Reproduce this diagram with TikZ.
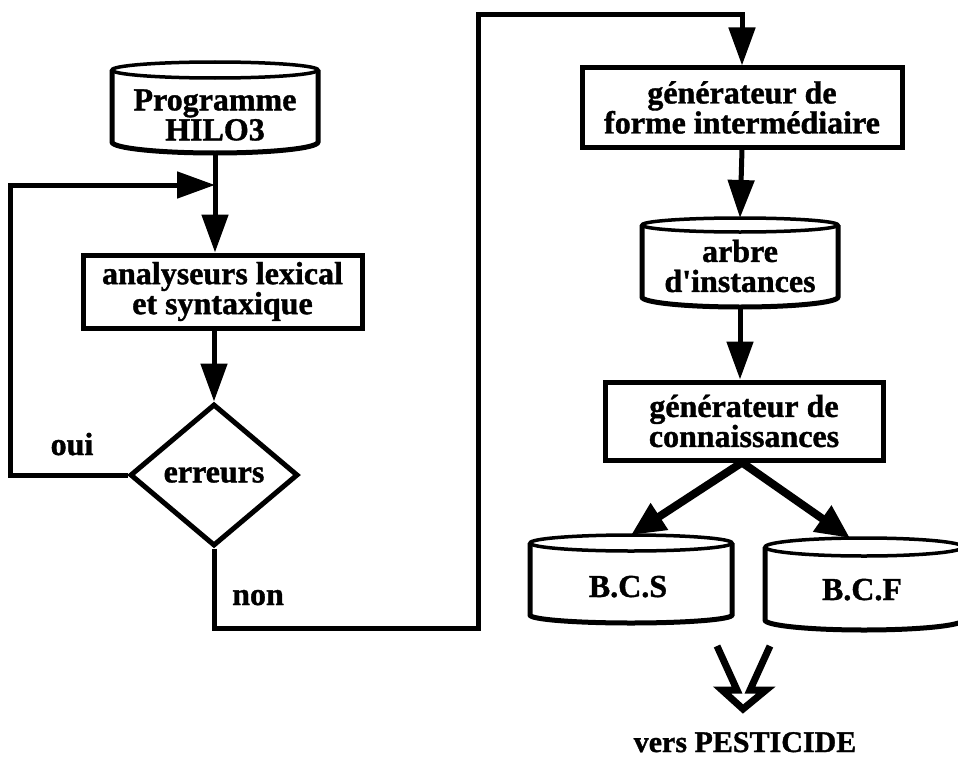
\documentclass[tikz,border=0pt]{standalone}
\usepackage{fontspec}
\setmainfont{Liberation Serif}[Ligatures=TeXOff, BoldFeatures={FakeBold=1.2}]
\usetikzlibrary{arrows.meta,shapes.geometric}
\newcommand\drawcyl[6]{%
  \draw[cyltop] (#1,#2) ellipse [x radius=#3, y radius=#4];
  \draw[cylside] ({#1-#3},#2) -- ({#1-#3},#5) arc[start angle=180, end angle=0, x radius=#3, y radius={#6-#5}] -- ({#1+#3},#2);
}
\begin{document}
\begin{tikzpicture}[x=1pt,y=-1pt,
  lbl/.style={font=\bfseries\fontsize{32}{30}\selectfont, align=center, inner sep=0pt},
  boxnode/.style={draw, line width=5pt, inner sep=0pt, lbl},
  area/.style={inner sep=0pt, outer sep=0pt},
  conn/.style={line width=5pt},
  arr/.style={conn, -{Triangle[length=38pt,width=26pt]}},
  bigarr/.style={line width=8pt, -{Triangle[length=34pt,width=30pt]}},
  cylside/.style={line width=5pt, line join=miter},
  cyltop/.style={line width=3.5pt},
  openarr/.style={line width=7pt, line join=miter, miter limit=10}]
\useasboundingbox[fill=white] (0,0) rectangle (958,760);

% cylinders
\drawcyl{215}{70}{103}{8}{142}{153}
\drawcyl{740}{225}{98}{7}{297}{307}
\drawcyl{631}{543}{101}{8}{615}{623}
\drawcyl{864}{547}{99}{9}{620}{630}

\node[area, minimum width=206, minimum height=91] (prog) at (215,107.5) {};
\node[lbl] (progt) at (215,115) {Programme\\HILO3};
\node[area, minimum width=196, minimum height=89] (arbre) at (740,262.5) {};
\node[lbl] (arbret) at (740,266) {arbre\\d'instances};
\node[area, minimum width=202, minimum height=88] (bcs) at (631,579) {};
\node[lbl, anchor=base] (bcst) at (628,597) {B.C.S};
\node[area, minimum width=198, minimum height=92] (bcf) at (864,584) {};
\node[lbl, anchor=base] (bcft) at (862,600) {B.C.F};

% boxes
\node[boxnode, minimum width=279, minimum height=73] (anal) at (222.5,291.5) {analyseurs lexical\\et syntaxique};
\node[boxnode, minimum width=320, minimum height=79] (gen1) at (742,107.5) {générateur de\\forme intermédiaire};
\node[boxnode, minimum width=278, minimum height=78] (gen2) at (744,421) {générateur de\\connaissances};
\node[draw, diamond, line width=5pt, inner sep=0pt, aspect=1.18, minimum width=168, minimum height=142, lbl] (err) at (214,475) {erreurs};

% labels
\node[lbl, anchor=base] (oui) at (72,455) {oui};
\node[lbl, anchor=base] (non) at (258,605) {non};
\node[lbl, anchor=base, font=\bfseries\fontsize{30}{30}\selectfont] (pest) at (745,752) {vers PESTICIDE};

% coordinates
\coordinate (loopin) at (215,185);
\coordinate (loopL) at (10,0);
\coordinate (c1) at (478,628);
\coordinate (c2) at (478,15);

% connectors
\draw[arr] (prog.south) -- (prog.south |- anal.north);
\draw[arr] (err.west) -- (err.west -| loopL) |- (loopin);
\draw[arr] (anal.south -| err.north) -- (err.north);
\draw[arr] (err.south) |- (c1) -- (c2) -| (gen1.north);
\draw[arr] (gen1.south) -- (arbre.north);
\draw[arr] (arbre.south) -- (gen2.north -| arbre.south);
\draw[bigarr] ([xshift=-2pt]gen2.south) -- (bcs.north);
\draw[bigarr] ([xshift=-2pt]gen2.south) -- ([xshift=-14pt]bcf.north);

% open arrow
\draw[openarr] (717,646) -- (737,690) -- (722,690) -- (743,709) -- (766,690) -- (750,690) -- (770,646);
\end{tikzpicture}
\end{document}
